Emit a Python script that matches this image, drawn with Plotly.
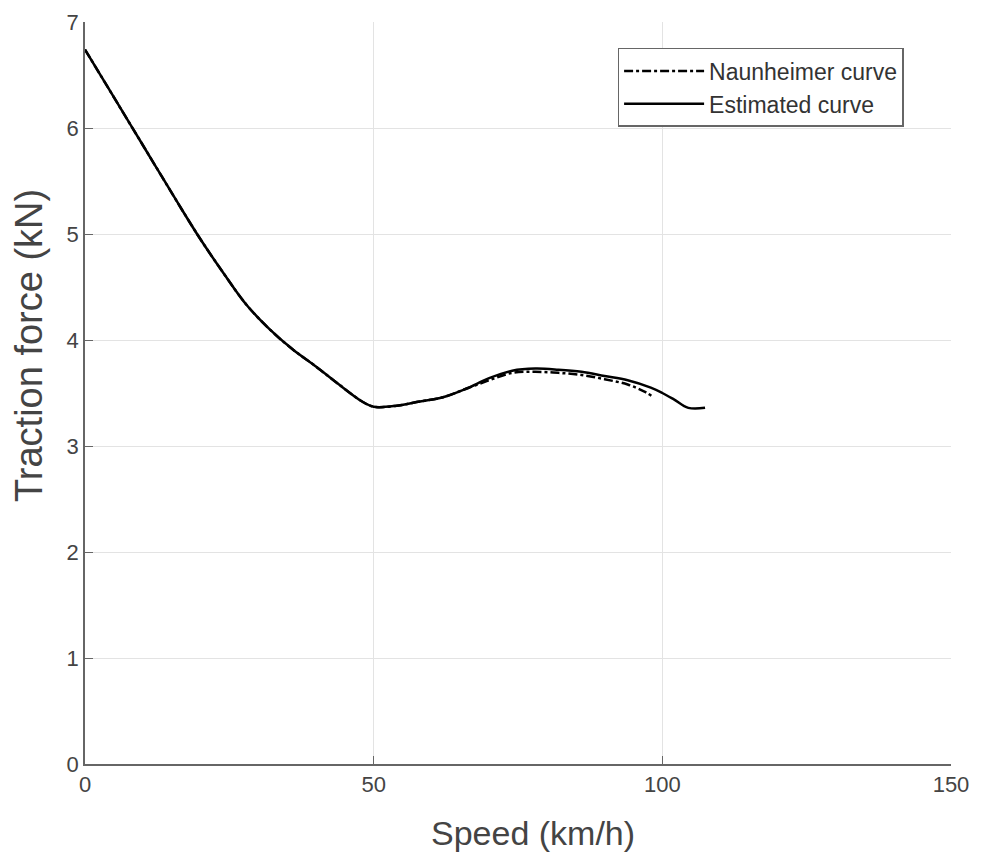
import plotly.graph_objects as go

speed_est = [0, 4, 8, 12, 16, 20, 24, 28, 32, 36, 40, 44, 48, 50, 54, 58, 62, 66, 70, 74, 78, 82, 86, 90, 94, 98, 100, 102, 104.5, 107.4]
force_est = [6.74, 6.38, 6.02, 5.66, 5.30, 4.95, 4.63, 4.33, 4.10, 3.91, 3.75, 3.58, 3.42, 3.37, 3.38, 3.42, 3.46, 3.54, 3.64, 3.71, 3.73, 3.72, 3.70, 3.66, 3.62, 3.55, 3.50, 3.44, 3.36, 3.36]

speed_nau = [0, 4, 8, 12, 16, 20, 24, 28, 32, 36, 40, 44, 48, 50, 54, 58, 62, 66, 70, 74, 78, 82, 86, 90, 94, 97, 98.5]
force_nau = [6.74, 6.38, 6.02, 5.66, 5.30, 4.95, 4.63, 4.33, 4.10, 3.91, 3.75, 3.58, 3.42, 3.37, 3.38, 3.42, 3.46, 3.54, 3.62, 3.69, 3.70, 3.69, 3.67, 3.63, 3.58, 3.51, 3.46]

x_ticks = [0, 50, 100, 150]
y_ticks = [0, 1, 2, 3, 4, 5, 6, 7]

fig = go.Figure()
fig.add_trace(go.Scatter(x=speed_nau, y=force_nau, mode="lines", name="Naunheimer curve",
                         line=dict(color="black", width=2.5, dash="dashdot", shape="spline")))
fig.add_trace(go.Scatter(x=speed_est, y=force_est, mode="lines", name="Estimated curve",
                         line=dict(color="black", width=2.5, shape="spline")))

axis_common = dict(showgrid=True, gridcolor="#e3e3e3", gridwidth=1, zeroline=False,
                   showline=True, linecolor="#666666", linewidth=1.5,
                   ticks="inside", ticklen=8, tickcolor="#666666", automargin=False,
                   tickfont=dict(family="Liberation Sans, Arial", size=22, color="#444444"))

fig.update_xaxes(range=[0, 150], tickvals=x_ticks, **axis_common)
fig.update_yaxes(range=[0, 7], tickvals=y_ticks, **axis_common)

fig.update_layout(
    width=981, height=859,
    margin=dict(l=85, r=30, t=22, b=95),
    plot_bgcolor="white", paper_bgcolor="white",
    legend=dict(x=0.615, y=0.965, xanchor="left", yanchor="top",
                bordercolor="#666666", borderwidth=1.5, bgcolor="white",
                itemwidth=80,
                font=dict(family="Liberation Sans, Arial", size=23, color="#333333"),
                tracegroupgap=0),
    annotations=[
        dict(text="Speed (km/h)", xref="paper", yref="paper", x=(533 - 85) / 866, y=-(833 - 764) / 742,
             xanchor="center", yanchor="middle", showarrow=False,
             font=dict(family="Liberation Sans, Arial", size=34, color="#444444")),
        dict(text="Traction force (kN)", xref="paper", yref="paper", x=-(85 - 29) / 866, y=(764 - 346) / 742,
             xanchor="center", yanchor="middle", showarrow=False, textangle=-90,
             font=dict(family="Liberation Sans, Arial", size=38, color="#444444")),
    ],
)

fig.write_html("out.html", config={"displayModeBar": False},
               post_script="document.body.style.margin='0';")
